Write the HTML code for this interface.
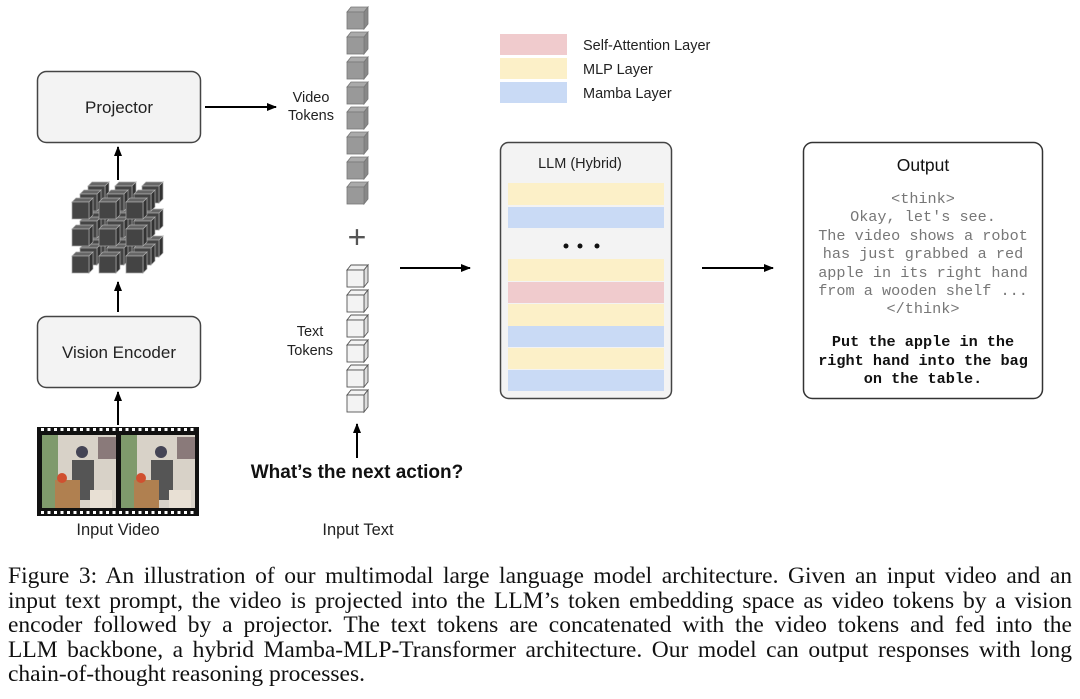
<!DOCTYPE html>
<html><head><meta charset="utf-8"><style>
body{margin:0;background:#fff;}
.wrap{position:relative;width:1080px;height:699px;overflow:hidden;}
svg{position:absolute;left:0;top:0;}
.cap{position:absolute;left:8px;width:1064px;font-family:"Liberation Serif",serif;font-size:23.5px;color:#111;text-align:justify;text-align-last:justify;white-space:nowrap;line-height:24px;}
</style></head><body><div class="wrap">
<svg width="1080" height="560" viewBox="0 0 1080 560" font-family="Liberation Sans, sans-serif">
<defs>
<marker id="ah" markerWidth="10" markerHeight="8" refX="9" refY="4" orient="auto" markerUnits="userSpaceOnUse"><path d="M0,0 L10,4 L0,8 z" fill="#000"/></marker>
<g id="gc"><path d="M0,5 L4,0 L21,0 L17,5z" fill="#aaa" stroke="#777" stroke-width="0.8"/><path d="M17,5 L21,0 L21,17 L17,22z" fill="#888" stroke="#777" stroke-width="0.8"/><rect x="0" y="5" width="17" height="17" fill="#999" stroke="#777" stroke-width="0.8"/></g>
<g id="wc"><path d="M0,5 L4,0 L21,0 L17,5z" fill="#f3f3f3" stroke="#555" stroke-width="0.9"/><path d="M17,5 L21,0 L21,17 L17,22z" fill="#ddd" stroke="#555" stroke-width="0.9"/><rect x="0" y="5" width="17" height="17" fill="#f3f3f3" stroke="#555" stroke-width="0.9"/></g>
<g id="dc"><path d="M0,4 L4,0 L21,0 L17,4z" fill="#666" stroke="#aaa" stroke-width="0.7"/><path d="M17,4 L21,0 L21,17 L17,21z" fill="#333" stroke="#aaa" stroke-width="0.7"/><rect x="0" y="4" width="17" height="17" fill="#444" stroke="#aaa" stroke-width="0.7"/></g>
</defs>
<rect x="500" y="34" width="67" height="21" fill="#f0cbcd"/>
<rect x="500" y="58" width="67" height="21" fill="#fcf0c8"/>
<rect x="500" y="82" width="67" height="21" fill="#c9daf5"/>
<g font-size="14.5" fill="#222"><text x="583" y="50">Self-Attention Layer</text><text x="583" y="74">MLP Layer</text><text x="583" y="98">Mamba Layer</text></g>
<rect x="37.5" y="71.5" width="163" height="71" rx="9" fill="#f3f3f3" stroke="#444" stroke-width="1.5"/>
<text x="119" y="113" font-size="17" text-anchor="middle" fill="#222">Projector</text>
<rect x="37.5" y="316.5" width="163" height="71" rx="9" fill="#f3f3f3" stroke="#444" stroke-width="1.5"/>
<text x="119" y="358" font-size="17" text-anchor="middle" fill="#222">Vision Encoder</text>
<g stroke="#000" stroke-width="2" marker-end="url(#ah)">
<line x1="205" y1="107" x2="276" y2="107"/>
<line x1="118" y1="180" x2="118" y2="147"/>
<line x1="118" y1="312" x2="118" y2="282"/>
<line x1="118" y1="425" x2="118" y2="392"/>
<line x1="357" y1="458" x2="357" y2="424"/>
<line x1="400" y1="268" x2="470" y2="268"/>
<line x1="702" y1="268" x2="773" y2="268"/>
</g>
<g font-size="14.5" fill="#222" text-anchor="middle"><text x="311" y="102">Video</text><text x="311" y="120">Tokens</text><text x="310" y="336">Text</text><text x="310" y="355">Tokens</text></g>
<use href="#gc" x="347" y="7"/><use href="#gc" x="347" y="32"/><use href="#gc" x="347" y="57"/><use href="#gc" x="347" y="82"/><use href="#gc" x="347" y="107"/><use href="#gc" x="347" y="132"/><use href="#gc" x="347" y="157"/><use href="#gc" x="347" y="182"/>
<text x="357" y="248" font-size="32" text-anchor="middle" fill="#555">+</text>
<use href="#wc" x="347" y="265"/><use href="#wc" x="347" y="290"/><use href="#wc" x="347" y="315"/><use href="#wc" x="347" y="340"/><use href="#wc" x="347" y="365"/><use href="#wc" x="347" y="390"/>
<text x="357" y="478" font-size="19" font-weight="bold" text-anchor="middle" fill="#111">What’s the next action?</text>
<text x="358" y="535" font-size="16.5" text-anchor="middle" fill="#222">Input Text</text>
<text x="118" y="535" font-size="16.5" text-anchor="middle" fill="#222">Input Video</text>
<g>
<use href="#dc" x="88" y="182"/><use href="#dc" x="115" y="182"/><use href="#dc" x="142" y="182"/>
<use href="#dc" x="88" y="209"/><use href="#dc" x="115" y="209"/><use href="#dc" x="142" y="209"/>
<use href="#dc" x="88" y="236"/><use href="#dc" x="115" y="236"/><use href="#dc" x="142" y="236"/>
<use href="#dc" x="80" y="190"/><use href="#dc" x="107" y="190"/><use href="#dc" x="134" y="190"/>
<use href="#dc" x="80" y="217"/><use href="#dc" x="107" y="217"/><use href="#dc" x="134" y="217"/>
<use href="#dc" x="80" y="244"/><use href="#dc" x="107" y="244"/><use href="#dc" x="134" y="244"/>
<use href="#dc" x="72" y="198"/><use href="#dc" x="99" y="198"/><use href="#dc" x="126" y="198"/>
<use href="#dc" x="72" y="225"/><use href="#dc" x="99" y="225"/><use href="#dc" x="126" y="225"/>
<use href="#dc" x="72" y="252"/><use href="#dc" x="99" y="252"/><use href="#dc" x="126" y="252"/>
</g>
<rect x="37" y="427" width="162" height="89" fill="#111"/>
<path d="M41,429.5 h156" stroke="#fff" stroke-width="3" stroke-dasharray="3,3.5"/>
<path d="M41,512.5 h156" stroke="#fff" stroke-width="3" stroke-dasharray="3,3.5"/>
<g>
<rect x="42" y="435" width="74" height="73" fill="#d8d2c8"/>
<rect x="42" y="435" width="16" height="73" fill="#7f9a6c"/>
<rect x="98" y="437" width="18" height="22" fill="#8a7a7a"/>
<rect x="72" y="460" width="22" height="40" fill="#555"/>
<circle cx="82" cy="452" r="6" fill="#445"/>
<rect x="55" y="480" width="25" height="28" fill="#b08050"/>
<circle cx="62" cy="478" r="5" fill="#d05030"/>
<rect x="90" y="490" width="22" height="18" fill="#e8e0d4"/>
<rect x="121" y="435" width="74" height="73" fill="#d8d2c8"/>
<rect x="121" y="435" width="16" height="73" fill="#7f9a6c"/>
<rect x="177" y="437" width="18" height="22" fill="#8a7a7a"/>
<rect x="151" y="460" width="22" height="40" fill="#555"/>
<circle cx="161" cy="452" r="6" fill="#445"/>
<rect x="134" y="480" width="25" height="28" fill="#b08050"/>
<circle cx="141" cy="478" r="5" fill="#d05030"/>
<rect x="169" y="490" width="22" height="18" fill="#e8e0d4"/>
</g>
<rect x="500.5" y="142.5" width="171" height="256" rx="8" fill="#f3f3f3" stroke="#444" stroke-width="1.5"/>
<text x="580" y="168" font-size="14.5" text-anchor="middle" fill="#222">LLM (Hybrid)</text>
<rect x="508" y="183" width="156" height="22" fill="#fcf0c8"/>
<rect x="508" y="207" width="156" height="21" fill="#c9daf5"/>
<circle cx="566" cy="246" r="2.5" fill="#111"/><circle cx="580" cy="246" r="2.5" fill="#111"/><circle cx="597" cy="246" r="2.5" fill="#111"/>
<rect x="508" y="259" width="156" height="22" fill="#fcf0c8"/>
<rect x="508" y="282" width="156" height="21" fill="#f0cbcd"/>
<rect x="508" y="304" width="156" height="22" fill="#fcf0c8"/>
<rect x="508" y="326" width="156" height="21" fill="#c9daf5"/>
<rect x="508" y="348" width="156" height="21" fill="#fcf0c8"/>
<rect x="508" y="370" width="156" height="21" fill="#c9daf5"/>
<rect x="803.5" y="142.5" width="239" height="256" rx="9" fill="#fff" stroke="#333" stroke-width="1.5"/>
<text x="923" y="171" font-size="17.5" text-anchor="middle" fill="#111">Output</text>
<g font-family="Liberation Mono, monospace" font-size="15.2" fill="#777" text-anchor="middle">
<text x="923" y="203">&lt;think&gt;</text>
<text x="923" y="221">Okay, let's see.</text>
<text x="923" y="240">The video shows a robot</text>
<text x="923" y="258">has just grabbed a red</text>
<text x="923" y="277">apple in its right hand</text>
<text x="923" y="295">from a wooden shelf ...</text>
<text x="923" y="313">&lt;/think&gt;</text>
</g>
<g font-family="Liberation Mono, monospace" font-size="15.2" font-weight="bold" fill="#111" text-anchor="middle">
<text x="923" y="346">Put the apple in the</text>
<text x="923" y="365">right hand into the bag</text>
<text x="923" y="383">on the table.</text>
</g>
</svg>
<div class="cap" style="top:564px">Figure 3: An illustration of our multimodal large language model architecture. Given an input video and an</div>
<div class="cap" style="top:589px">input text prompt, the video is projected into the LLM’s token embedding space as video tokens by a vision</div>
<div class="cap" style="top:613px">encoder followed by a projector. The text tokens are concatenated with the video tokens and fed into the</div>
<div class="cap" style="top:638px">LLM backbone, a hybrid Mamba-MLP-Transformer architecture. Our model can output responses with long</div>
<div class="cap" style="top:662px;text-align-last:left">chain-of-thought reasoning processes.</div>
</div></body></html>
